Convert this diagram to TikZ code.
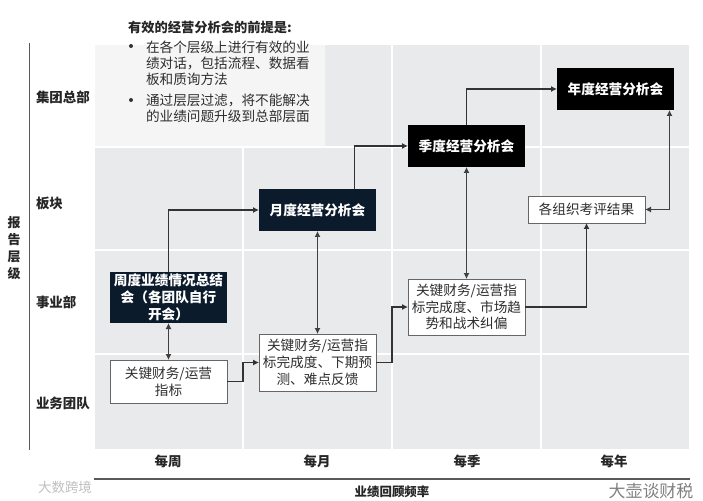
\documentclass[tikz,border=0pt]{standalone}
\usepackage{fontspec}
\setmainfont{Noto Sans CJK SC}
\usepackage{xcolor}
\usetikzlibrary{arrows.meta, positioning}
\definecolor{cellgray}{HTML}{E9EAEC}
\definecolor{panelgray}{HTML}{F5F5F6}
\definecolor{navybox}{HTML}{0B1B2B}
\definecolor{inkgray}{HTML}{2E2E2E}

\begin{document}
\begin{tikzpicture}[
    x=1bp, y=-1bp,
    every node/.style = {inner sep=0pt, outer sep=0pt, text=inkgray},
    darkbox/.style  = {rectangle, fill=navybox, minimum width=117bp, minimum height=42bp,
                       align=center, text=white, font=\fontsize{13.7}{16.8}\selectfont\bfseries},
    blackbox/.style = {darkbox, fill=black},
    metbox/.style   = {rectangle, draw=black!60, fill=white, line width=0.9bp, minimum width=117bp,
                       align=center, font=\fontsize{13.7}{16.8}\selectfont},
    axislabel/.style = {font=\fontsize{13.5}{16}\selectfont\bfseries, text=black!85},
    arrow/.style    = {-{Latex[length=6bp,width=6bp]}, line width=1.1bp, draw=black!80},
    mainarrow/.style = {arrow, line width=1.7bp},
    twoway/.style   = {{Latex[length=6bp,width=6bp]}-{Latex[length=6bp,width=6bp]},
                       line width=1.1bp, draw=black!75},
  ]
  \useasboundingbox (0,0) rectangle (703,501);

  % grid
  \fill[cellgray] (95,45) rectangle (689,449);
  \foreach \xgap in {243, 392, 541}
    \draw[white, line width=1.8bp] (\xgap,45) -- (\xgap,449);
  \foreach \ygap in {147, 250, 354}
    \draw[white, line width=1.8bp] (95,\ygap) -- (689,\ygap);
  \fill[panelgray] (95,45) rectangle (325,146);

  % axes
  \draw[black!65, line width=1bp] (29,43) -- (29,450);
  \draw[black!65, line width=1.2bp] (94,479) -- (690,479);

  % premise text
  \node[anchor=west, font=\fontsize{13.3}{16}\selectfont\bfseries, text=black!85] (premise) at (128,27) {有效的经营分析会的前提是:};
  \node[anchor=north west, align=left, font=\fontsize{13.7}{16.2}\selectfont] (point_a) at (146,41)
        {在各个层级上进行有效的业\\绩对话，包括流程、数据看\\板和质询方法};
  \node[anchor=north west, align=left, font=\fontsize{13.7}{16.2}\selectfont] (point_b) at (146,94)
        {通过层层过滤，将不能解决\\的业绩问题升级到总部层面};
  \node[circle, fill=black!80, minimum size=4bp] (dot_a) at (131,46) {};
  \node[circle, fill=black!80, minimum size=4bp] (dot_b) at (131,100) {};

  % review boxes
  \node[darkbox, minimum height=51bp] (week_sum) at (168.5,297.5) {周度业绩情况总结\\会（各团队自行\\开会）};
  \node[metbox, minimum height=43bp, below=37bp of week_sum] (week_met) {关键财务/运营\\指标};

  \node[darkbox, above right=41bp and 32bp of week_sum] (month_sum) {月度经营分析会};
  \node[metbox, minimum height=57bp, below=103bp of month_sum] (month_met) {关键财务/运营指\\标完成度、下期预\\测、难点反馈};

  \node[blackbox, above right=22bp and 32bp of month_sum] (quarter_sum) {季度经营分析会};
  \node[metbox, minimum height=56bp, below=112bp of quarter_sum] (quarter_met) {关键财务/运营指\\标完成度、市场趋\\势和战术纠偏};

  \node[blackbox, above right=15bp and 32bp of quarter_sum] (year_sum) {年度经营分析会};
  \node[metbox, minimum height=27bp, below=86bp of year_sum, xshift=-29bp] (year_res) {各组织考评结果};

  % row and column labels
  \node[axislabel, anchor=west] (row_group)  at (36,97)  {集团总部};
  \node[axislabel, anchor=west] (row_plate)  at (36,203) {板块};
  \node[axislabel, anchor=west] (row_unit)   at (36,302) {事业部};
  \node[axislabel, anchor=west] (row_team)   at (36,403) {业务团队};
  \node[axislabel, align=center, font=\fontsize{13}{17}\selectfont\bfseries] (row_title) at (14,248) {报\\告\\层\\级};
  \node[axislabel] (col_week)    at (168,461) {每周};
  \node[axislabel] (col_month)   at (317,461) {每月};
  \node[axislabel] (col_quarter) at (467,461) {每季};
  \node[axislabel] (col_year)    at (614,461) {每年};
  \node[axislabel, font=\fontsize{12.5}{14}\selectfont\bfseries] (col_title) at (392,492) {业绩回顾频率};

  % watermarks
  \node[font=\fontsize{13.5}{16}\selectfont, text=black!25] (mark_left)  at (65,487) {大数跨境};
  \node[font=\fontsize{17}{18}\selectfont, text=black!50] (mark_right) at (651,491) {大壶谈财税};

  % connectors
  \draw[mainarrow] (week_sum.north) |- (month_sum.west);
  \draw[mainarrow] ([xshift=37bp]month_sum.north) |- (quarter_sum.west);
  \draw[mainarrow] (quarter_sum.north) |- (year_sum.west);

  \draw[twoway] (week_sum) -- (week_met);
  \draw[twoway] (month_sum) -- (month_met);
  \draw[twoway] (quarter_sum) -- (quarter_met);
  \draw[twoway] ([xshift=54bp]year_sum.south) |- (year_res.east);

  \draw[arrow] (week_met.east) -- ++(16bp,0) |- (month_met.west);
  \draw[arrow] (month_met.east) -- ++(16bp,0) |- (quarter_met.west);
  \draw[arrow] (quarter_met.east) -| (year_res.south);
\end{tikzpicture}
\end{document}
